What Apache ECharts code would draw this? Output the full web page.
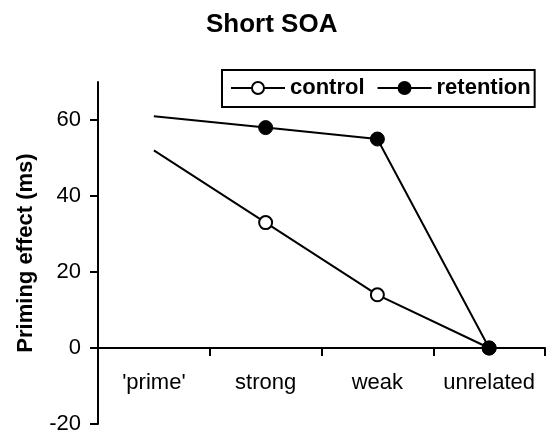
<!DOCTYPE html>
<html>
<head>
<meta charset="utf-8">
<script src="https://cdn.jsdelivr.net/npm/echarts@6/dist/echarts.min.js"></script>
<style>
html,body{margin:0;padding:0;background:#fff;}
#chart{width:550px;height:431px;}
</style>
</head>
<body>
<div id="chart"></div>
<script>
const categories = ["'prime'", "strong", "weak", "unrelated"];
const controlValues = [52, 33, 14, 0];
const retentionValues = [61, 58, 55, 0];
const yTicks = [-20, 0, 20, 40, 60];

const FONT = 'Arial, "Liberation Sans", sans-serif';

function seriesData(vals) {
  return vals.map((v, i) => i === 0 ? { value: v, symbol: 'none' } : v);
}

const chart = echarts.init(document.getElementById('chart'), null, { renderer: 'canvas' });
chart.setOption({
  animation: false,
  backgroundColor: '#fff',
  title: {
    text: 'Short SOA',
    left: 206,
    top: 12,
    padding: 0,
    textStyle: { fontFamily: FONT, fontSize: 26, fontWeight: 'bold', color: '#000' }
  },
  legend: {
    left: 222,
    top: 70,
    orient: 'horizontal',
    padding: [7, 4, 8, 8],
    borderColor: '#000',
    borderWidth: 2,
    itemWidth: 54,
    itemHeight: 15,
    itemGap: 12,
    data: ['control', 'retention'],
    textStyle: { fontFamily: FONT, fontSize: 22, fontWeight: 'bold', color: '#000' }
  },
  grid: { left: 98, right: 5, top: 82, bottom: 7, containLabel: false, outerBoundsMode: 'none' },
  xAxis: {
    type: 'category',
    data: categories,
    boundaryGap: true,
    axisLine: { onZero: true, lineStyle: { color: '#000', width: 2 } },
    axisTick: { show: true, inside: false, interval: 0, length: 8, lineStyle: { color: '#000', width: 2 } },
    axisLabel: { interval: 0, margin: -52, fontFamily: FONT, fontSize: 22, color: '#000' },
    splitLine: { show: false }
  },
  yAxis: {
    type: 'value',
    min: -20,
    max: 70,
    interval: 10,
    name: 'Priming effect (ms)',
    nameLocation: 'middle',
    nameGap: 61,
    nameTextStyle: { fontFamily: FONT, fontSize: 22, fontWeight: 'bold', color: '#000' },
    axisLine: { show: true, onZero: false, lineStyle: { color: '#000', width: 2 } },
    axisTick: { show: true, inside: false, length: 8, customValues: yTicks, lineStyle: { color: '#000', width: 2 } },
    axisLabel: { margin: 17, fontFamily: FONT, fontSize: 22, color: '#000', customValues: yTicks },
    splitLine: { show: false }
  },
  series: [
    {
      name: 'control',
      type: 'line',
      data: seriesData(controlValues),
      symbol: 'circle',
      symbolSize: 13,
      lineStyle: { color: '#000', width: 2 },
      itemStyle: { color: '#fff', borderColor: '#000', borderWidth: 2 },
      emphasis: { disabled: true },
      z: 2
    },
    {
      name: 'retention',
      type: 'line',
      data: seriesData(retentionValues),
      symbol: 'circle',
      symbolSize: 14,
      lineStyle: { color: '#000', width: 2 },
      itemStyle: { color: '#000', borderColor: '#000', borderWidth: 1 },
      emphasis: { disabled: true },
      z: 3
    }
  ]
});
</script>
</body>
</html>
